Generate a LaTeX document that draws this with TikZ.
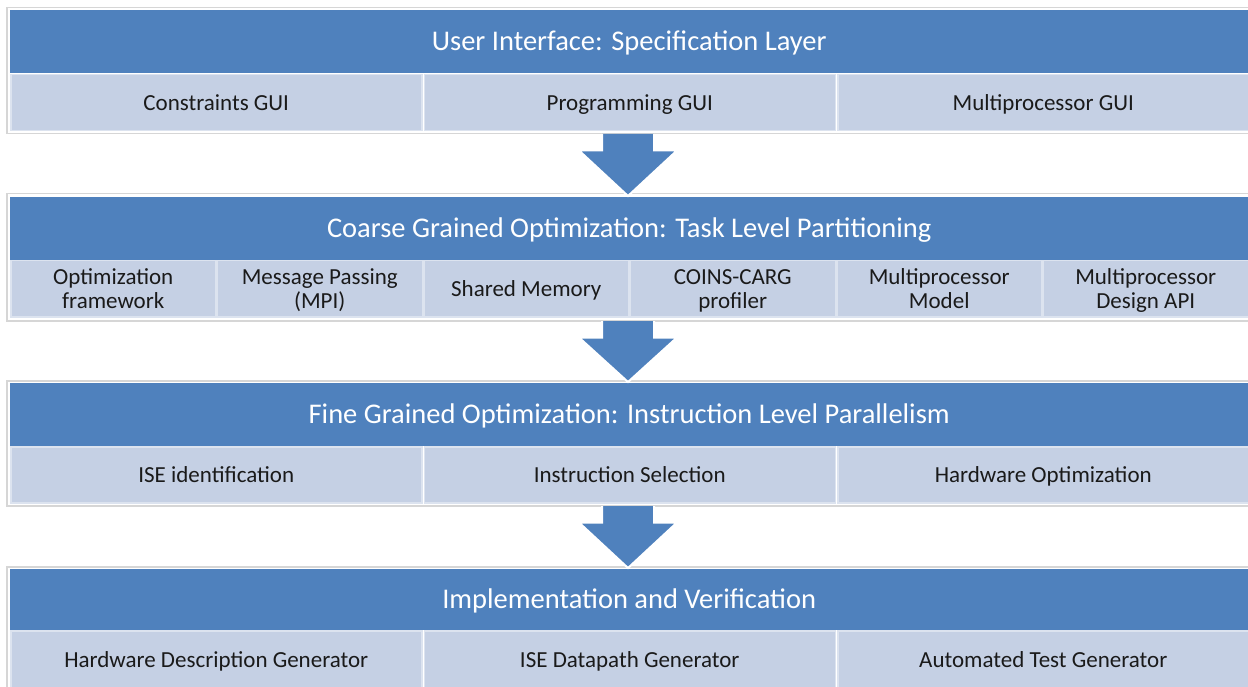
\documentclass[tikz,border=0pt]{standalone}
\usepackage{fontspec}
\setmainfont{Carlito}
\usetikzlibrary{calc}
\definecolor{hdr}{HTML}{4F81BD}
\definecolor{cellc}{HTML}{C5D0E4}
\definecolor{sepc}{HTML}{DCE3EF}
\definecolor{framec}{HTML}{D6D6D6}
\definecolor{txt}{HTML}{1A1A1A}
\newcommand{\cstrut}{\rule[-4.2pt]{0pt}{24pt}}
\tikzset{
  frame/.style={draw=framec, line width=1.5pt, fill=white, anchor=north west, inner sep=0pt, minimum width=1250pt},
  header/.style={fill=hdr, anchor=north west, inner sep=0pt, minimum width=1238pt, minimum height=63pt, text=white, font=\fontsize{28.5}{30}\selectfont, text height=22pt, text depth=4pt},
  cellw/.style={fill=cellc, draw=sepc, line width=1.5pt, anchor=north west, inner sep=0pt, minimum width=411pt, minimum height=56pt, text=txt, font=\fontsize{23}{24}\selectfont, align=center},
  celln/.style={cellw, minimum width=205pt},
  bigarrow/.style={fill=hdr, draw=white, line width=2pt, line join=miter}
}
\begin{document}
\begin{tikzpicture}[x=1pt,y=-1pt]
\useasboundingbox (0,0) rectangle (1248,687);
% Layer 1
\node[frame, minimum height=126pt] (f1) at (6,7) {};
\node[header] (h1) at (10,10) {User Interface: Specification Layer};
\node[cellw] (c11) at (10,74) {\cstrut Constraints GUI};
\node[cellw] (c12) at (423.5,74) {\cstrut Programming GUI};
\node[cellw] (c13) at (837,74) {\cstrut Multiprocessor GUI};
% Layer 2
\node[frame, minimum height=127pt] (f2) at (6,193) {};
\node[header] (h2) at (10,197) {Coarse Grained Optimization: Task Level Partitioning};
\node[celln] (c21) at (10,260) {\cstrut Optimization\\\cstrut framework};
\node[celln] (c22) at (216.5,260) {\cstrut Message Passing\\\cstrut (MPI)};
\node[celln] (c23) at (423,260) {\cstrut Shared Memory};
\node[celln] (c24) at (629.5,260) {\cstrut COINS-CARG\\\cstrut profiler};
\node[celln] (c25) at (836,260) {\cstrut Multiprocessor\\\cstrut Model};
\node[celln] (c26) at (1042.5,260) {\cstrut Multiprocessor\\\cstrut Design API};
% Layer 3
\node[frame, minimum height=125pt] (f3) at (6,380) {};
\node[header] (h3) at (10,383) {Fine Grained Optimization: Instruction Level Parallelism};
\node[cellw] (c31) at (10,446) {\cstrut ISE identification};
\node[cellw] (c32) at (423.5,446) {\cstrut Instruction Selection};
\node[cellw] (c33) at (837,446) {\cstrut Hardware Optimization};
% Layer 4
\node[frame, minimum height=130pt] (f4) at (6,566) {};
\node[header, minimum height=61pt] (h4) at (10,569) {Implementation and Verification};
\node[cellw, minimum height=57pt] (c41) at (10,630) {\cstrut Hardware Description Generator};
\node[cellw, minimum height=57pt] (c42) at (423.5,630) {\cstrut ISE Datapath Generator};
\node[cellw, minimum height=57pt] (c43) at (837,630) {\cstrut Automated Test Generator};
% Arrows
\foreach \a/\b in {f1/h2, f2/h3, f3/h4}{
  \draw[bigarrow] let \p1=(\a.south), \p2=(\b.north) in
    (628-26, \y1+0.5) -- (628-26, \y1-16) -- (628-49, \y1-16) -- (628, \y2+1) -- (628+49, \y1-16) -- (628+26, \y1-16) -- (628+26, \y1+0.5);
}
\end{tikzpicture}
\end{document}
